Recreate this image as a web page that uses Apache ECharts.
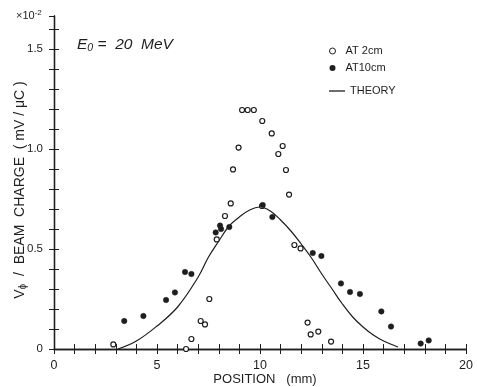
<!DOCTYPE html>
<html>
<head>
<meta charset="utf-8">
<script src="https://cdn.jsdelivr.net/npm/echarts@6/dist/echarts.min.js"></script>
<style>html,body{margin:0;padding:0;background:#fff}#c{width:477px;height:387px}</style>
</head>
<body>
<div id="c"></div>
<script>
// Data (x: position in mm, y: V_phi / beam charge, x10^-2 mV/uC)
var xOpen = [2.88, 6.41, 6.67, 7.12, 7.33, 7.54, 7.9, 8.3, 8.58, 8.69, 8.96, 9.13, 9.4, 9.7, 10.11, 10.1, 10.57, 10.89, 11.1, 11.26, 11.41, 11.67, 11.97, 12.31, 12.46, 12.83, 13.45];
var yOpen = [0.023, 0.0, 0.05, 0.14, 0.123, 0.25, 0.548, 0.665, 0.728, 0.898, 1.007, 1.195, 1.195, 1.195, 1.14, 0.715, 1.078, 0.975, 1.015, 0.895, 0.772, 0.52, 0.503, 0.132, 0.073, 0.087, 0.037];
var xFill = [3.41, 4.34, 5.44, 5.87, 6.36, 6.67, 7.85, 8.06, 8.11, 8.51, 10.13, 10.6, 12.56, 12.98, 13.93, 14.37, 14.85, 15.89, 16.36, 17.8, 18.19];
var yFill = [0.14, 0.165, 0.245, 0.283, 0.385, 0.375, 0.583, 0.617, 0.6, 0.61, 0.72, 0.66, 0.48, 0.465, 0.328, 0.285, 0.275, 0.188, 0.112, 0.027, 0.043];
var xTheory = [3.1, 4, 5, 6, 7, 7.5, 8, 8.5, 9, 9.5, 10, 10.5, 11, 11.5, 12, 12.5, 13, 13.5, 14, 14.5, 15, 15.5, 16, 16.7];
var yTheory = [0.0, 0.04, 0.115, 0.21, 0.36, 0.46, 0.54, 0.615, 0.66, 0.695, 0.71, 0.69, 0.645, 0.59, 0.525, 0.455, 0.375, 0.30, 0.225, 0.16, 0.11, 0.07, 0.04, 0.01];
var xTickLabels = [0, 5, 10, 15, 20];
var yTickLabels = ['0', '0.5', '1.0', '1.5'];

function zip(a, b) { return a.map(function (v, i) { return [v, b[i]]; }); }

var ink = '#1e1e1e';
var font = 'Liberation Sans, Arial, sans-serif';

var chart = echarts.init(document.getElementById('c'), null, {renderer: 'canvas'});
chart.setOption({
  backgroundColor: '#ffffff',
  animation: false,
  grid: {left: 54, right: 11, top: 16, bottom: 38, containLabel: false, outerBoundsMode: 'none'},
  xAxis: [{
    type: 'value', min: 0, max: 20, interval: 1, position: 'bottom',
    axisLine: {show: true, lineStyle: {color: ink, width: 1.3}},
    axisTick: {show: true, inside: true, length: 5, lineStyle: {color: ink, width: 1}},
    axisLabel: {color: ink, fontSize: 12.5, fontFamily: font, margin: 10,
      formatter: function (v) { return xTickLabels.indexOf(Math.round(v * 1000) / 1000) >= 0 ? String(v) : ''; }},
    splitLine: {show: false}
  }, {
    type: 'value', min: 0, max: 20, interval: 1, position: 'top',
    axisLine: {show: true, lineStyle: {color: ink, width: 1.3}},
    axisTick: {show: true, inside: true, length: 5, lineStyle: {color: ink, width: 1}},
    axisLabel: {show: false}, splitLine: {show: false}
  }],
  yAxis: [{
    type: 'value', min: 0, max: 1.665, interval: 0.1, position: 'left',
    axisLine: {show: true, lineStyle: {color: ink, width: 1.3}},
    axisTick: {show: true, inside: true, length: 5, lineStyle: {color: ink, width: 1}},
    axisLabel: {color: ink, fontSize: 11.5, fontFamily: font, margin: 11, showMaxLabel: false,
      formatter: function (v) {
        var k = Math.round(v * 10);
        if (Math.abs(v * 10 - k) > 1e-6 || k % 5 !== 0) return '';
        return yTickLabels[k / 5] || '';
      }},
    splitLine: {show: false}
  }, {
    type: 'value', min: 0, max: 1.665, interval: 0.1, position: 'right',
    axisLine: {show: true, lineStyle: {color: ink, width: 1.3}},
    axisTick: {show: true, inside: true, length: 5, lineStyle: {color: ink, width: 1}},
    axisLabel: {show: false}, splitLine: {show: false}
  }],
  legend: [{
    orient: 'vertical', left: 324, top: 40, itemGap: 5, itemWidth: 16, itemHeight: 6,
    textStyle: {color: ink, fontSize: 11, fontFamily: font, lineHeight: 12},
    data: [
      {name: 'AT 2cm', icon: 'circle', itemStyle: {color: '#fff', borderColor: ink, borderWidth: 1}},
      {name: 'AT10cm', icon: 'circle', itemStyle: {color: ink, borderColor: ink, borderWidth: 0}}
    ]
  }, {
    orient: 'vertical', left: 324, top: 80, itemWidth: 16, itemHeight: 6,
    textStyle: {color: ink, fontSize: 11, fontFamily: font, lineHeight: 12},
    data: [
      {name: 'THEORY', icon: 'path://M0,0 L16,0 L16,1.3 L0,1.3 Z', itemStyle: {color: ink, borderWidth: 0}}
    ]
  }],
  series: [{
    name: 'AT 2cm', type: 'scatter', xAxisIndex: 0, yAxisIndex: 0,
    data: zip(xOpen, yOpen), symbol: 'circle', symbolSize: 5,
    itemStyle: {color: '#ffffff', borderColor: ink, borderWidth: 1.2, opacity: 1}, z: 3
  }, {
    name: 'AT10cm', type: 'scatter', xAxisIndex: 0, yAxisIndex: 0,
    data: zip(xFill, yFill), symbol: 'circle', symbolSize: 5.5,
    itemStyle: {color: ink, borderColor: ink, borderWidth: 0.5, opacity: 1}, z: 4
  }, {
    name: 'THEORY', type: 'line', xAxisIndex: 0, yAxisIndex: 0,
    data: zip(xTheory, yTheory), smooth: 0.4, showSymbol: false, symbol: 'none',
    lineStyle: {color: ink, width: 1.2}, itemStyle: {color: ink}, z: 2
  }],
  graphic: [{
    type: 'text', left: 16, top: 9,
    style: {text: '{a|×10}{s|-2}', fill: ink,
      rich: {a: {fontSize: 11, fontFamily: font, fill: ink},
             s: {fontSize: 8, fontFamily: font, fill: ink, verticalAlign: 'top', padding: [0, 0, 6, 0]}}}
  }, {
    type: 'text', left: 77, top: 37,
    style: {text: '{e|E}{s|0}{e| =  20  MeV}', fill: ink,
      rich: {e: {fontSize: 15.5, fontStyle: 'italic', fontFamily: font, fill: ink},
             s: {fontSize: 10.5, fontStyle: 'italic', fontFamily: font, fill: ink, padding: [7, 0, 0, 0]}}}
  }, {
    type: 'text', x: 20, y: 190, rotation: Math.PI / 2,
    style: {text: '{a|V}{s|ϕ}{a|  /  BEAM  CHARGE  ( mV / μC )}', fill: ink,
      align: 'center', verticalAlign: 'middle',
      rich: {a: {fontSize: 14, fontFamily: font, fill: ink},
             s: {fontSize: 10, fontFamily: font, fill: ink, padding: [7, 0, 0, 0]}}}
  }, {
    type: 'text', x: 265, y: 379,
    style: {text: 'POSITION   (mm)', fill: ink, fontSize: 13, fontFamily: font,
      align: 'center', verticalAlign: 'middle'}
  }]
});
</script>
</body>
</html>
